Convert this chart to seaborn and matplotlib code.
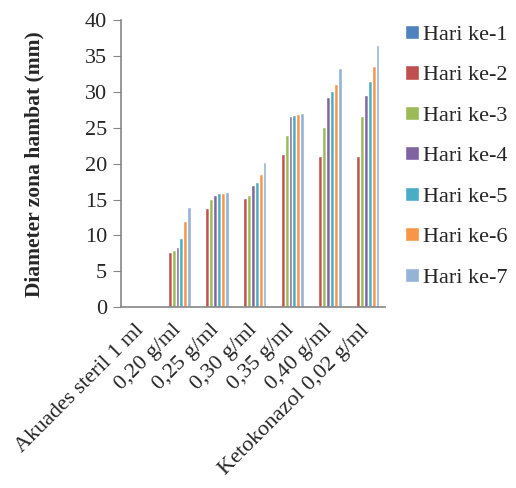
import pandas as pd
import matplotlib
matplotlib.use("Agg")
import matplotlib.pyplot as plt
import matplotlib.transforms as mtransforms
import seaborn as sns

perlakuan = ["Akuades steril 1 ml", "0,20 g/ml", "0,25 g/ml", "0,30 g/ml",
             "0,35 g/ml", "0,40 g/ml", "Ketokonazol 0,02 g/ml"]
hari = ["Hari ke-1", "Hari ke-2", "Hari ke-3", "Hari ke-4",
        "Hari ke-5", "Hari ke-6", "Hari ke-7"]

# diameter per hari (mm), satu list per hari, urutan sesuai perlakuan
hari_1 = [0, 0, 0, 0, 0, 0, 0]
hari_2 = [0, 7.7, 13.8, 15.15, 21.35, 21.1, 21.1]
hari_3 = [0, 8.0, 15.1, 15.7, 24.0, 25.1, 26.7]
hari_4 = [0, 8.4, 15.7, 17.0, 26.7, 29.3, 29.65]
hari_5 = [0, 9.65, 15.9, 17.5, 26.85, 30.1, 31.6]
hari_6 = [0, 12.0, 15.9, 18.6, 26.95, 31.1, 33.7]
hari_7 = [0, 14.0, 16.0, 20.2, 27.1, 33.3, 36.6]

warna = ["#4F81BD", "#C0504D", "#9BBB59", "#8064A2", "#4BACC6", "#F79646", "#95B3D7"]

rows = []
for h, vals in zip(hari, [hari_1, hari_2, hari_3, hari_4, hari_5, hari_6, hari_7]):
    for p, v in zip(perlakuan, vals):
        rows.append({"Perlakuan": p, "Hari": h, "Diameter": v})
df = pd.DataFrame(rows)

sns.set_style("white")
plt.rcParams["font.family"] = ["Liberation Serif", "DejaVu Serif"]

fig = plt.figure(figsize=(5.16, 4.88), dpi=100)
ax = fig.add_axes([0.2345, 0.371, 0.511, 0.587])

sns.barplot(data=df, x="Perlakuan", y="Diameter", hue="Hari", palette=warna,
            width=0.72, saturation=1, ax=ax, legend=True)

ax.set_ylim(0, 40)
ax.set_yticks(range(0, 41, 5))
ax.set_xlabel("")
ax.set_ylabel("Diameter zona hambat (mm)", fontsize=15.5, fontweight="bold", labelpad=29)

for s in ["top", "right"]:
    ax.spines[s].set_visible(False)
for s in ["left", "bottom"]:
    ax.spines[s].set_color("#868686")
    ax.spines[s].set_linewidth(1.2)

ax.tick_params(axis="y", direction="out", length=6, color="#868686", labelsize=16, pad=4, left=True)
ax.tick_params(axis="x", length=0, labelsize=16, pad=10)
geser = mtransforms.ScaledTranslation(-4 / 72, 0, fig.dpi_scale_trans)
for lbl in ax.get_xticklabels():
    lbl.set_rotation(45)
    lbl.set_ha("right")
    lbl.set_rotation_mode("anchor")
    lbl.set_transform(lbl.get_transform() + geser)

handles, labels = ax.get_legend_handles_labels()
ax.legend_.remove()
fig.legend(handles, labels, loc="upper left", bbox_to_anchor=(0.768, 0.967),
           frameon=False, fontsize=16, labelspacing=0.925, handlelength=0.6,
           handleheight=0.6, handletextpad=0.2, borderaxespad=0)

fig.savefig("out.png", dpi=100)
